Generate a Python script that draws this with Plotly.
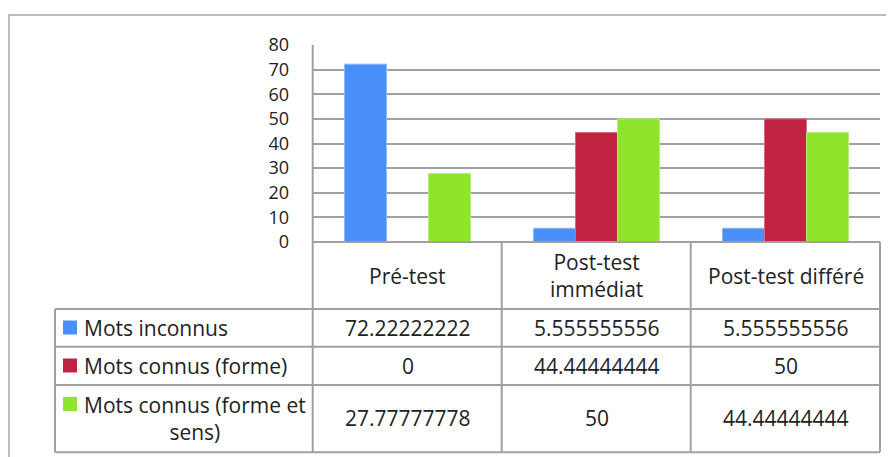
import plotly.graph_objects as go

categories = ["Pré-test", "Post-test immédiat", "Post-test différé"]
category_labels = ["Pré-test", "Post-test<br>immédiat", "Post-test différé"]
series_names = ["Mots inconnus", "Mots connus (forme)", "Mots connus (forme et sens)"]
series_labels = ["Mots inconnus", "Mots connus (forme)", "Mots connus (forme et<br>sens)"]
mots_inconnus = [72.22222222, 5.555555556, 5.555555556]
mots_connus_forme = [0, 44.44444444, 50]
mots_connus_forme_sens = [27.77777778, 50, 44.44444444]
y_ticks = [0, 10, 20, 30, 40, 50, 60, 70, 80]

series_values = [mots_inconnus, mots_connus_forme, mots_connus_forme_sens]
colors = ["#4A8EF9", "#C02242", "#8EE52B"]
edge_colors = ["#8DBAFB", "#D86A80", "#B5EE76"]

# page body has an 8px margin: figure is drawn from screen (8, 8)
OFF = 8
SW, SH = 894, 457
W, H = SW - OFF, SH - OFF
PL, PR, PT, PB = 313, 880, 45, 242  # plot area in screen pixels
FONT = "Open Sans"
FS = 21
TXT = "#222222"
LINE = "#A0A0A0"


def px(x):
    return (x - PL) / (PR - PL)


def py(y):
    return (PB - y) / (PB - PT)


fig = go.Figure()
for name, vals, col, ec in zip(series_names, series_values, colors, edge_colors):
    fig.add_trace(go.Bar(x=categories, y=vals, name=name,
                         marker=dict(color=col, line=dict(width=1, color=ec))))

shapes = []
# outer frame (cropped)
shapes.append(dict(type="rect", xref="paper", yref="paper", x0=px(9), x1=px(905), y0=py(15), y1=py(470),
                   line=dict(color="#A8A8A8", width=1.5), fillcolor="rgba(0,0,0,0)", layer="below"))

row_y = [242, 309, 346.7, 385, 452.3]
col_x = [312.7, 501.7, 690.7, 880]
shapes.append(dict(type="line", xref="paper", yref="paper", x0=px(312.7), x1=px(880), y0=py(242), y1=py(242),
                   line=dict(color=LINE, width=2)))
for yy in row_y[1:]:
    shapes.append(dict(type="line", xref="paper", yref="paper", x0=px(55), x1=px(880), y0=py(yy), y1=py(yy),
                       line=dict(color=LINE, width=2)))
shapes.append(dict(type="line", xref="paper", yref="paper", x0=px(55), x1=px(55), y0=py(309), y1=py(452.3),
                   line=dict(color=LINE, width=2)))
shapes.append(dict(type="line", xref="paper", yref="paper", x0=px(312.7), x1=px(312.7), y0=py(45), y1=py(452.3),
                   line=dict(color=LINE, width=2)))
for xx in col_x[1:]:
    shapes.append(dict(type="line", xref="paper", yref="paper", x0=px(xx), x1=px(xx), y0=py(242), y1=py(452.3),
                       line=dict(color=LINE, width=2)))

annotations = []
for i, lab in enumerate(category_labels):
    annotations.append(dict(x=i, xref="x", y=py(275.5), yref="paper", text=lab, showarrow=False,
                            xanchor="center", yanchor="middle", align="center",
                            font=dict(family=FONT, size=FS, color=TXT)))
row_centers = [327.8, 365.8, 418.0]
swatch_centers = [327.5, 365.5, 404]
for r, (lab, vals, col) in enumerate(zip(series_labels, series_values, colors)):
    yc = row_centers[r]
    sc = swatch_centers[r]
    shapes.append(dict(type="rect", xref="paper", yref="paper", x0=px(63), x1=px(77), y0=py(sc - 7), y1=py(sc + 7),
                       fillcolor=col, line=dict(width=0)))
    annotations.append(dict(x=px(82), xref="paper", y=py(yc), yref="paper", text=lab, showarrow=False,
                            xanchor="left", yanchor="middle", align="center",
                            font=dict(family=FONT, size=FS, color=TXT)))
    for i, v in enumerate(vals):
        annotations.append(dict(x=i, xref="x", y=py(yc), yref="paper", text=f"{v:.10g}", showarrow=False,
                                xanchor="center", yanchor="middle",
                                font=dict(family=FONT, size=FS, color=TXT)))

fig.update_layout(
    width=W, height=H,
    margin=dict(l=PL - OFF, r=SW - PR, t=PT - OFF, b=SH - PB, pad=0),
    paper_bgcolor="white", plot_bgcolor="white",
    barmode="group", bargap=0.333, bargroupgap=0,
    showlegend=False,
    shapes=shapes, annotations=annotations,
    font=dict(family=FONT, size=FS, color=TXT),
)
fig.update_xaxes(showticklabels=False, showgrid=False, showline=False, zeroline=False, ticks="",
                 range=[-0.5, 2.5])
fig.update_yaxes(range=[0, 80], tickvals=y_ticks, showgrid=True, gridcolor=LINE, gridwidth=2,
                 zeroline=False, showline=False, ticks="", ticklabelstandoff=23,
                 tickfont=dict(family=FONT, size=18, color=TXT))

fig.write_html("out.html")
